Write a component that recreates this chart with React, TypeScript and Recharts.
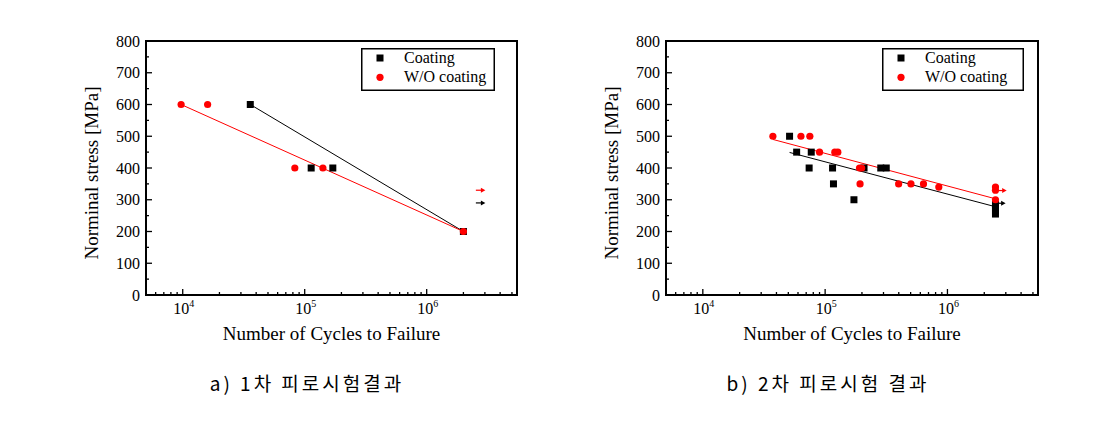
import React from 'react';
import { ComposedChart, Scatter, XAxis, YAxis, ReferenceArea, Legend, Label } from 'recharts';

type Pt = { x: number; y: number };

const SERIF = "'Liberation Serif', 'Times New Roman', 'DejaVu Serif', serif";
const serifStyle: React.CSSProperties = { fontFamily: SERIF };

// a) first fatigue test
const coatingA: Pt[] = [
  { x: 35800, y: 600 },
  { x: 113000, y: 400 },
  { x: 170000, y: 400 },
  { x: 2000000, y: 200 },
];
const woCoatingA: Pt[] = [
  { x: 9700, y: 600 },
  { x: 16000, y: 600 },
  { x: 83000, y: 400 },
  { x: 141000, y: 400 },
  { x: 2000000, y: 200 },
];
const fitCoatingA: Pt[] = [
  { x: 35800, y: 600 },
  { x: 2000000, y: 200 },
];
const fitWoCoatingA: Pt[] = [
  { x: 9700, y: 600 },
  { x: 2000000, y: 200 },
];
const runoutCoatingA: Pt[] = [{ x: 2530000, y: 290 }];
const runoutWoCoatingA: Pt[] = [{ x: 2530000, y: 330 }];

// b) second fatigue test
const coatingB: Pt[] = [
  { x: 51200, y: 500 },
  { x: 58500, y: 450 },
  { x: 77000, y: 450 },
  { x: 74000, y: 400 },
  { x: 115000, y: 400 },
  { x: 117000, y: 350 },
  { x: 172000, y: 300 },
  { x: 208000, y: 400 },
  { x: 285000, y: 400 },
  { x: 316000, y: 400 },
  { x: 2470000, y: 255 },
  { x: 2470000, y: 265 },
  { x: 2470000, y: 275 },
  { x: 2470000, y: 285 },
];
const woCoatingB: Pt[] = [
  { x: 37400, y: 500 },
  { x: 63400, y: 500 },
  { x: 75000, y: 500 },
  { x: 90000, y: 450 },
  { x: 120000, y: 450 },
  { x: 127000, y: 450 },
  { x: 191000, y: 400 },
  { x: 199000, y: 400 },
  { x: 193000, y: 350 },
  { x: 399000, y: 350 },
  { x: 503000, y: 350 },
  { x: 637000, y: 350 },
  { x: 850000, y: 340 },
  { x: 2470000, y: 300 },
  { x: 2470000, y: 330 },
  { x: 2470000, y: 340 },
];
const fitCoatingB: Pt[] = [
  { x: 51200, y: 449 },
  { x: 2470000, y: 278 },
];
const fitWoCoatingB: Pt[] = [
  { x: 37400, y: 490 },
  { x: 2470000, y: 303 },
];
const runoutCoatingB: Pt[] = [{ x: 2500000, y: 289 }];
const runoutWoCoatingB: Pt[] = [{ x: 2550000, y: 329 }];

const X_DOMAIN: [number, number] = [5000, 5500000];
const xMajorTicks = [10000, 100000, 1000000];
const xMinorTicks = [
  6000, 7000, 8000, 9000,
  20000, 30000, 40000, 50000, 60000, 70000, 80000, 90000,
  200000, 300000, 400000, 500000, 600000, 700000, 800000, 900000,
  2000000, 3000000, 4000000, 5000000,
];
const xTicks = [...xMajorTicks, ...xMinorTicks];
const yTicks = [0, 50, 100, 150, 200, 250, 300, 350, 400, 450, 500, 550, 600, 650, 700, 750, 800];

const seriesNames = ['Coating', 'W/O coating'];
const captions = ['a) 1차 피로시험결과', 'b) 2차 피로시험 결과'];
const xTitle = 'Number of Cycles to Failure';
const yTitle = 'Norminal stress [MPa]';

function XTick(props: any) {
  const { x, y, payload } = props;
  const v = payload.value;
  const major = xMajorTicks.includes(v);
  return (
    <g>
      <line x1={x} x2={x} y1={y} y2={y - (major ? 6 : 3)} stroke="#000" strokeWidth={1.3} />
      {major && (
        <text x={x + 1} y={y + 19} textAnchor="middle" style={serifStyle} fontSize={16} fill="#000">
          10
          <tspan dy={-7} fontSize={10}>
            {Math.round(Math.log10(v))}
          </tspan>
        </text>
      )}
    </g>
  );
}

function YTick(props: any) {
  const { x, y, payload } = props;
  const v = payload.value;
  const major = v % 100 === 0;
  return (
    <g>
      <line x1={x} x2={x + (major ? 6 : 3)} y1={y} y2={y} stroke="#000" strokeWidth={1.3} />
      {major && (
        <text x={x - 6} y={y} dy="0.35em" textAnchor="end" style={serifStyle} fontSize={16} fill="#000">
          {v}
        </text>
      )}
    </g>
  );
}

const Square = (p: any) => <rect x={p.cx - 3.5} y={p.cy - 3.5} width={7} height={7} fill="#000" />;
const Dot = (p: any) => <circle cx={p.cx} cy={p.cy} r={3.6} fill="#ff0000" />;
const Empty = () => <g />;
const arrow = (color: string) => (p: any) => (
  <g>
    <line x1={p.cx} x2={p.cx + 6} y1={p.cy} y2={p.cy} stroke={color} strokeWidth={1.2} />
    <polygon points={`${p.cx + 5},${p.cy - 2.5} ${p.cx + 9.5},${p.cy} ${p.cx + 5},${p.cy + 2.5}`} fill={color} />
  </g>
);

function LegendBox({ width }: { width: number }) {
  return (
    <svg width={width} height={43} style={{ display: 'block' }}>
      <rect x={0.75} y={0.75} width={width - 1.5} height={41.5} fill="#fff" stroke="#000" strokeWidth={1.5} />
      <rect x={15.5} y={6.5} width={7} height={7} fill="#000" />
      <circle cx={19} cy={29.3} r={3.6} fill="#ff0000" />
      <text x={43} y={14.5} style={serifStyle} fontSize={16} fill="#000">
        {seriesNames[0]}
      </text>
      <text x={43} y={33.5} style={serifStyle} fontSize={16} fill="#000">
        {seriesNames[1]}
      </text>
    </svg>
  );
}

interface PanelProps {
  width: number;
  coating: Pt[];
  woCoating: Pt[];
  fitCoating: Pt[];
  fitWoCoating: Pt[];
  runoutCoating: Pt[];
  runoutWoCoating: Pt[];
  legendLeft: number;
  legendWidth: number;
}

function Panel(p: PanelProps) {
  return (
    <ComposedChart width={p.width} height={360} margin={{ top: 41, right: 23, bottom: 25, left: 86 }}>
      <XAxis
        dataKey="x"
        type="number"
        scale="log"
        domain={X_DOMAIN}
        allowDataOverflow
        ticks={xTicks}
        interval={0}
        tick={(t: any) => <XTick {...t} />}
        tickLine={false}
        axisLine={false}
        tickSize={0}
        tickMargin={0}
        height={40}
      >
        <Label
          content={(lp: any) => {
            const vb = lp.viewBox || { x: 146, y: 295, width: 371 };
            return (
              <text x={vb.x + vb.width / 2} y={vb.y + 45} textAnchor="middle" style={serifStyle} fontSize={19} fill="#000">
                {xTitle}
              </text>
            );
          }}
        />
      </XAxis>
      <YAxis
        dataKey="y"
        type="number"
        domain={[0, 800]}
        allowDataOverflow
        ticks={yTicks}
        interval={0}
        tick={(t: any) => <YTick {...t} />}
        tickLine={false}
        axisLine={false}
        tickSize={0}
        tickMargin={0}
        width={60}
      >
        <Label
          content={(lp: any) => {
            const vb = lp.viewBox || { x: 86, y: 41, height: 254 };
            const cx = vb.x + 5;
            const cy = vb.y + vb.height / 2 + 5;
            return (
              <text
                x={cx}
                y={cy}
                dy="0.35em"
                transform={`rotate(-90, ${cx}, ${cy})`}
                textAnchor="middle"
                style={serifStyle}
                fontSize={19}
                fill="#000"
              >
                {yTitle}
              </text>
            );
          }}
        />
      </YAxis>
      <ReferenceArea
        x1={X_DOMAIN[0]}
        x2={X_DOMAIN[1]}
        y1={0}
        y2={800}
        fill="none"
        fillOpacity={0}
        stroke="#000"
        strokeWidth={2}
        ifOverflow="visible"
      />
      <Scatter data={p.fitCoating} fill="#000" line={{ stroke: '#000', strokeWidth: 1 }} shape={Empty} legendType="none" isAnimationActive={false} />
      <Scatter data={p.fitWoCoating} fill="#ff0000" line={{ stroke: '#ff0000', strokeWidth: 1 }} shape={Empty} legendType="none" isAnimationActive={false} />
      <Scatter data={p.runoutCoating} fill="#000" shape={arrow('#000')} legendType="none" isAnimationActive={false} />
      <Scatter data={p.runoutWoCoating} fill="#ff0000" shape={arrow('#ff0000')} legendType="none" isAnimationActive={false} />
      <Scatter name={seriesNames[0]} data={p.coating} fill="#000" shape={Square} isAnimationActive={false} />
      <Scatter name={seriesNames[1]} data={p.woCoating} fill="#ff0000" shape={Dot} isAnimationActive={false} />
      <Legend
        layout="horizontal"
        verticalAlign="middle"
        align="center"
        content={() => <LegendBox width={p.legendWidth} />}
        wrapperStyle={{ left: p.legendLeft, top: 48, width: p.legendWidth, height: 43 }}
      />
    </ComposedChart>
  );
}

const captionStyle: React.CSSProperties = {
  position: 'absolute',
  top: 371,
  width: 300,
  textAlign: 'center',
  fontFamily: '"Noto Sans CJK KR", sans-serif',
  fontSize: 19,
  lineHeight: '24px',
  letterSpacing: 3,
  color: '#000',
  whiteSpace: 'nowrap',
};

export default function App() {
  return (
    <div style={{ position: 'absolute', left: 0, top: 0, width: 1102, height: 424, background: '#fff' }}>
      <div style={{ position: 'absolute', left: 0, top: 0 }}>
        <Panel
          width={540}
          coating={coatingA}
          woCoating={woCoatingA}
          fitCoating={fitCoatingA}
          fitWoCoating={fitWoCoatingA}
          runoutCoating={runoutCoatingA}
          runoutWoCoating={runoutWoCoatingA}
          legendLeft={361}
          legendWidth={134}
        />
      </div>
      <div style={{ position: 'absolute', left: 520, top: 0 }}>
        <Panel
          width={541}
          coating={coatingB}
          woCoating={woCoatingB}
          fitCoating={fitCoatingB}
          fitWoCoating={fitWoCoatingB}
          runoutCoating={runoutCoatingB}
          runoutWoCoating={runoutWoCoatingB}
          legendLeft={362}
          legendWidth={142}
        />
      </div>
      <div style={{ ...captionStyle, left: 307 - 150 }}>{captions[0]}</div>
      <div style={{ ...captionStyle, left: 828 - 150 }}>{captions[1]}</div>
    </div>
  );
}
